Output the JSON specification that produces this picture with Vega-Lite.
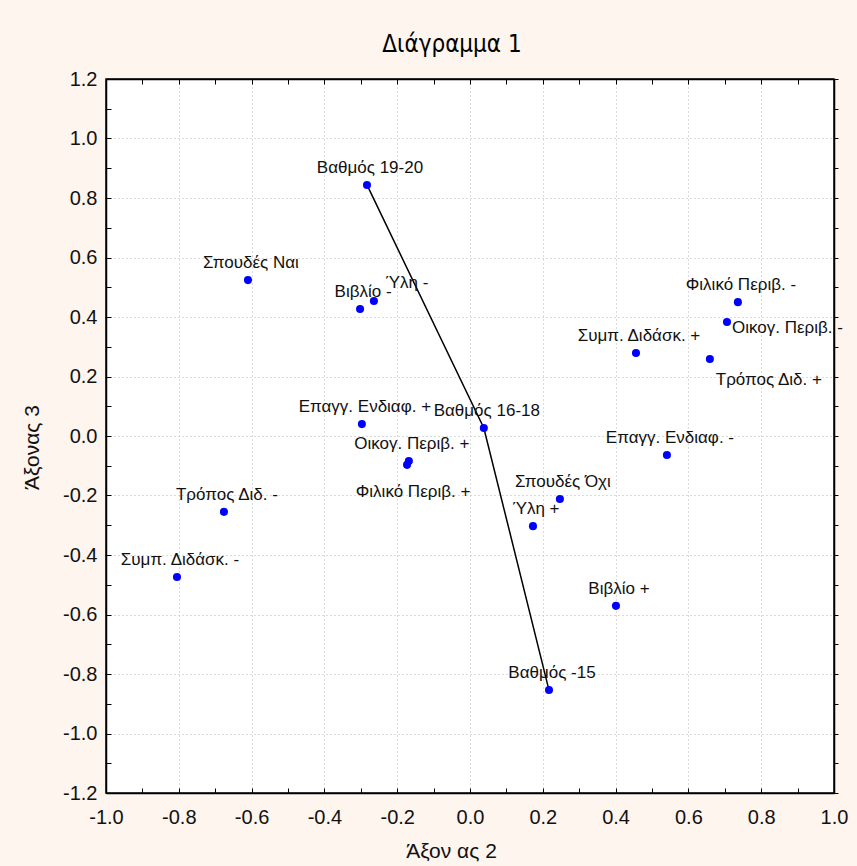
{
  "$schema": "https://vega.github.io/schema/vega-lite/v6.json",
  "width": 728,
  "height": 714,
  "autosize": "none",
  "padding": {"left": 106, "top": 79, "right": 23, "bottom": 73},
  "background": "#fdf5ee",
  "title": {
    "text": "Διάγραμμα 1",
    "font": "Liberation Sans Narrow, DejaVu Sans Condensed, sans-serif",
    "fontSize": 24,
    "fontWeight": "normal",
    "color": "#000000",
    "anchor": "middle",
    "frame": "group",
    "dx": -18,
    "dy": 36,
    "offset": 29,
    "baseline": "alphabetic"
  },
  "config": {
    "view": {"fill": "white", "stroke": "black", "strokeWidth": 1.5},
    "font": "Liberation Sans"
  },
  "datasets": {
    "pts": [
      {"label": "Βαθμός 19-20", "x": -0.283, "y": 0.844},
      {"label": "Σπουδές Ναι", "x": -0.610, "y": 0.524},
      {"label": "Βιβλίο -", "x": -0.302, "y": 0.427},
      {"label": "Ύλη -", "x": -0.264, "y": 0.454},
      {"label": "Επαγγ. Ενδιαφ. +", "x": -0.297, "y": 0.040},
      {"label": "Βαθμός 16-18", "x": 0.038, "y": 0.027},
      {"label": "Οικογ. Περιβ. +", "x": -0.168, "y": -0.084},
      {"label": "Φιλικό Περιβ. +", "x": -0.173, "y": -0.097},
      {"label": "Σπουδές Όχι", "x": 0.247, "y": -0.212},
      {"label": "Ύλη +", "x": 0.173, "y": -0.303},
      {"label": "Φιλικό Περιβ. -", "x": 0.736, "y": 0.450},
      {"label": "Οικογ. Περιβ. -", "x": 0.706, "y": 0.383},
      {"label": "Συμπ. Διδάσκ. +", "x": 0.456, "y": 0.279},
      {"label": "Τρόπος Διδ. +", "x": 0.659, "y": 0.259},
      {"label": "Επαγγ. Ενδιαφ. -", "x": 0.541, "y": -0.064},
      {"label": "Τρόπος Διδ. -", "x": -0.676, "y": -0.255},
      {"label": "Συμπ. Διδάσκ. -", "x": -0.805, "y": -0.474},
      {"label": "Βιβλίο +", "x": 0.401, "y": -0.571},
      {"label": "Βαθμός -15", "x": 0.217, "y": -0.854}
    ]
  },
  "layer": [
    {
      "data": {"name": "pts"},
      "encoding": {
        "x": {
          "field": "x",
          "type": "quantitative",
          "scale": {"domain": [-1, 1], "nice": false, "zero": false},
          "axis": {
            "orient": "bottom",
            "values": [-1, -0.9, -0.8, -0.7, -0.6, -0.5, -0.4, -0.3, -0.2, -0.1, 0, 0.1, 0.2, 0.3, 0.4, 0.5, 0.6, 0.7, 0.8, 0.9, 1],
            "labelExpr": "abs(round(datum.value*10)) % 2 == 0 ? replace(format(datum.value, '.1f'), '−', '-') : ''",
            "labelOverlap": false,
            "labelFlush": false,
            "labelBound": false,
            "labelFont": "Liberation Sans",
            "labelFontSize": 20,
            "labelColor": "#111111",
            "labelPadding": 19,
            "grid": true,
            "gridColor": "#b8b8b8",
            "gridDash": [1, 3],
            "gridWidth": 1,
            "gridOpacity": {"condition": {"test": "abs(round(datum.value*10)) % 2 == 0", "value": 1}, "value": 0},
            "tickSize": -5,
            "tickColor": "black",
            "tickWidth": 1,
            "domainColor": "black",
            "domainWidth": 1.5,
            "title": "Άξον ας 2",
            "titleFont": "Liberation Sans",
            "titleFontSize": 21,
            "titleFontWeight": "normal",
            "titleColor": "#111111",
            "titleX": 345,
            "titleY": 58,
            "titleBaseline": "middle"
          }
        },
        "y": {
          "field": "y",
          "type": "quantitative",
          "scale": {"domain": [-1.2, 1.2], "nice": false, "zero": false},
          "axis": {
            "orient": "left",
            "values": [-1.2, -1.1, -1, -0.9, -0.8, -0.7, -0.6, -0.5, -0.4, -0.3, -0.2, -0.1, 0, 0.1, 0.2, 0.3, 0.4, 0.5, 0.6, 0.7, 0.8, 0.9, 1, 1.1, 1.2],
            "labelExpr": "abs(round(datum.value*10)) % 2 == 0 ? replace(format(datum.value, '.1f'), '−', '-') : ''",
            "labelOverlap": false,
            "labelFlush": false,
            "labelBound": false,
            "labelFont": "Liberation Sans",
            "labelFontSize": 20,
            "labelColor": "#111111",
            "labelPadding": 14,
            "grid": true,
            "gridColor": "#b8b8b8",
            "gridDash": [1, 3],
            "gridWidth": 1,
            "gridOpacity": {"condition": {"test": "abs(round(datum.value*10)) % 2 == 0", "value": 1}, "value": 0},
            "tickSize": -5,
            "tickColor": "black",
            "tickWidth": 1,
            "domainColor": "black",
            "domainWidth": 1.5,
            "title": "Άξονας 3",
            "titleFont": "Liberation Sans",
            "titleFontSize": 21,
            "titleFontWeight": "normal",
            "titleColor": "#111111",
            "titleX": -74,
            "titleY": 368,
            "titleAngle": -90,
            "titleAlign": "center",
            "titleBaseline": "middle"
          }
        }
      },
      "layer": [
        {
          "transform": [{"filter": {"field": "label", "oneOf": ["Βαθμός 19-20", "Βαθμός 16-18", "Βαθμός -15"]}}],
          "mark": {"type": "line", "color": "black", "strokeWidth": 1.5}
        },
        {
          "mark": {"type": "point", "filled": true, "color": "#0000ff", "size": 65, "opacity": 1}
        },
        {
          "transform": [{"filter": {"not": {"field": "label", "oneOf": ["Ύλη -", "Φιλικό Περιβ. +", "Οικογ. Περιβ. -", "Τρόπος Διδ. +"]}}}],
          "mark": {"type": "text", "font": "Liberation Sans", "fontSize": 17, "color": "#111111", "align": "center", "baseline": "alphabetic", "dx": 3, "dy": -12},
          "encoding": {"text": {"field": "label"}}
        },
        {
          "transform": [{"filter": {"field": "label", "equal": "Ύλη -"}}],
          "mark": {"type": "text", "font": "Liberation Sans", "fontSize": 17, "color": "#111111", "align": "center", "baseline": "alphabetic", "dx": 33, "dy": -13},
          "encoding": {"text": {"field": "label"}}
        },
        {
          "transform": [{"filter": {"field": "label", "equal": "Φιλικό Περιβ. +"}}],
          "mark": {"type": "text", "font": "Liberation Sans", "fontSize": 17, "color": "#111111", "align": "center", "baseline": "alphabetic", "dx": 6, "dy": 32},
          "encoding": {"text": {"field": "label"}}
        },
        {
          "transform": [{"filter": {"field": "label", "equal": "Οικογ. Περιβ. -"}}],
          "mark": {"type": "text", "font": "Liberation Sans", "fontSize": 17, "color": "#111111", "align": "left", "baseline": "alphabetic", "dx": 5, "dy": 11},
          "encoding": {"text": {"field": "label"}}
        },
        {
          "transform": [{"filter": {"field": "label", "equal": "Τρόπος Διδ. +"}}],
          "mark": {"type": "text", "font": "Liberation Sans", "fontSize": 17, "color": "#111111", "align": "center", "baseline": "alphabetic", "dx": 59, "dy": 26},
          "encoding": {"text": {"field": "label"}}
        }
      ]
    },
    {
      "data": {"name": "pts"},
      "mark": {"type": "point", "opacity": 0},
      "encoding": {
        "x": {
          "field": "x",
          "type": "quantitative",
          "scale": {"domain": [-1, 1], "nice": false, "zero": false},
          "axis": {
            "orient": "top",
            "values": [-1, -0.9, -0.8, -0.7, -0.6, -0.5, -0.4, -0.3, -0.2, -0.1, 0, 0.1, 0.2, 0.3, 0.4, 0.5, 0.6, 0.7, 0.8, 0.9, 1],
            "labels": false,
            "grid": false,
            "tickSize": -5,
            "tickColor": "black",
            "tickWidth": 1,
            "domainColor": "black",
            "domainWidth": 1.5,
            "title": null
          }
        },
        "y": {
          "field": "y",
          "type": "quantitative",
          "scale": {"domain": [-1.2, 1.2], "nice": false, "zero": false},
          "axis": {
            "orient": "right",
            "values": [-1.2, -1.1, -1, -0.9, -0.8, -0.7, -0.6, -0.5, -0.4, -0.3, -0.2, -0.1, 0, 0.1, 0.2, 0.3, 0.4, 0.5, 0.6, 0.7, 0.8, 0.9, 1, 1.1, 1.2],
            "labels": false,
            "grid": false,
            "tickSize": 4,
            "tickColor": "black",
            "tickWidth": 1,
            "domainColor": "black",
            "domainWidth": 1.5,
            "title": null
          }
        }
      }
    }
  ],
  "resolve": {"axis": {"x": "independent", "y": "independent"}}
}
